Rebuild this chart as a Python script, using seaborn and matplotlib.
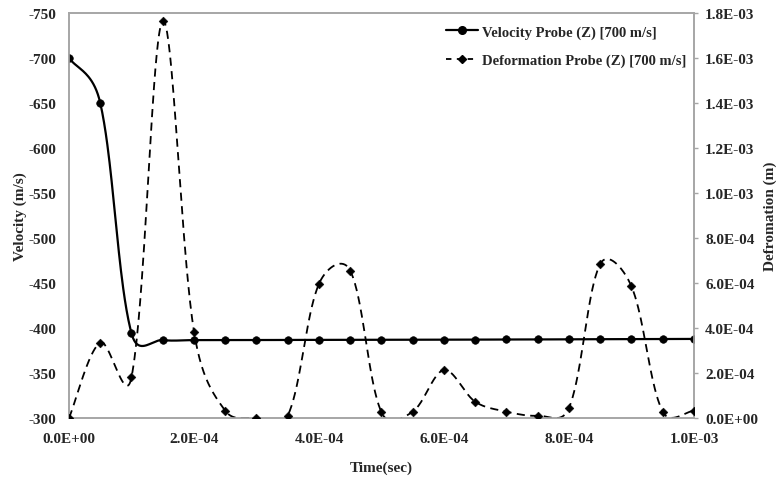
import numpy as np
import pandas as pd
import matplotlib
matplotlib.use("Agg")
import matplotlib.pyplot as plt
import seaborn as sns
from matplotlib.lines import Line2D
from matplotlib.ticker import FuncFormatter

# ---- data ----
time_s = [0.0, 5e-5, 1e-4, 1.5e-4, 2e-4, 2.5e-4, 3e-4, 3.5e-4, 4e-4, 4.5e-4, 5e-4,
          5.5e-4, 6e-4, 6.5e-4, 7e-4, 7.5e-4, 8e-4, 8.5e-4, 9e-4, 9.5e-4, 1e-3]
velocity = [-700, -650, -394, -386.5, -386.5, -386.5, -386.5, -386.7, -386.7, -386.8, -386.8,
            -387, -387, -387, -387.2, -387.2, -387.4, -387.5, -387.6, -387.7, -387.8]
deformation = [0.0, 3.35e-4, 1.81e-4, 1.764e-3, 3.84e-4, 3.2e-5, 0.0, 1.0e-5, 5.96e-4, 6.55e-4,
               2.5e-5, 2.8e-5, 2.13e-4, 7.2e-5, 2.8e-5, 1.0e-5, 4.4e-5, 6.84e-4, 5.85e-4,
               2.8e-5, 3.2e-5]
vel_label = "Velocity Probe (Z) [700 m/s]"
def_label = "Deformation Probe (Z) [700 m/s]"
x_ticks = [0, 2e-4, 4e-4, 6e-4, 8e-4, 1e-3]
vel_ticks = [-300, -350, -400, -450, -500, -550, -600, -650, -700, -750]
def_ticks = [0, 2e-4, 4e-4, 6e-4, 8e-4, 1e-3, 1.2e-3, 1.4e-3, 1.6e-3, 1.8e-3]

X_LIM = (0, 1e-3)
VEL_LIM = (-300, -750)
DEF_LIM = (0, 1.8e-3)
AX_W_PX, AX_H_PX = 625.0, 405.0


def smooth(x, y, xlim, ylim, n=40, k=0.5):
    """Excel-like smoothed line: cubic Bezier through the points, tangents partly
    weighted by the neighbouring segment lengths measured on screen."""
    x = np.asarray(x, float); y = np.asarray(y, float)
    sx = (x - xlim[0]) / (xlim[1] - xlim[0]) * AX_W_PX
    sy = (y - ylim[0]) / (ylim[1] - ylim[0]) * AX_H_PX
    P = np.column_stack([sx, sy])
    m = len(P)
    fwd = np.zeros_like(P); bwd = np.zeros_like(P)
    for i in range(m):
        p0 = P[max(i - 1, 0)]; p2 = P[min(i + 1, m - 1)]
        T = p2 - p0
        dp = np.linalg.norm(P[i] - p0); dn = np.linalg.norm(p2 - P[i])
        tot = dp + dn if dp + dn > 0 else 1.0
        wn = k * (dn / tot) + (1 - k) * 0.5
        wp = k * (dp / tot) + (1 - k) * 0.5
        fwd[i] = P[i] + T * wn / 3.0
        bwd[i] = P[i] - T * wp / 3.0
    t = np.linspace(0, 1, n, endpoint=False)[:, None]
    pts = []
    for i in range(m - 1):
        b0, b1, b2, b3 = P[i], fwd[i], bwd[i + 1], P[i + 1]
        pts.append((1 - t) ** 3 * b0 + 3 * (1 - t) ** 2 * t * b1 + 3 * (1 - t) * t ** 2 * b2 + t ** 3 * b3)
    pts.append(P[-1][None, :])
    pts = np.vstack(pts)
    xs = pts[:, 0] / AX_W_PX * (xlim[1] - xlim[0]) + xlim[0]
    ys = pts[:, 1] / AX_H_PX * (ylim[1] - ylim[0]) + ylim[0]
    return xs, ys


sns.set_theme(style="white")
plt.rcParams["font.family"] = ["Liberation Serif", "DejaVu Serif"]
plt.rcParams["font.weight"] = "bold"
plt.rcParams["axes.unicode_minus"] = False

fig = plt.figure(figsize=(7.77, 4.81), dpi=100)
ax = fig.add_axes([0.0888, 0.129, 0.8043, 0.842])
ax2 = ax.twinx()

gray = "#a6a6a6"

# velocity (left axis)
sx, sy = smooth(time_s, velocity, X_LIM, VEL_LIM)
sns.lineplot(x=sx, y=sy, ax=ax, color="black", lw=1.6, sort=False, estimator=None)
sns.scatterplot(x=time_s, y=velocity, ax=ax, color="black", s=30, marker="o", edgecolor="black", zorder=5)

# deformation (right axis)
dx, dy = smooth(time_s, deformation, X_LIM, DEF_LIM)
sns.lineplot(x=dx, y=dy, ax=ax2, color="black", lw=1.3, sort=False, estimator=None)
ax2.lines[-1].set_dashes([4.5, 3])
sns.scatterplot(x=time_s, y=deformation, ax=ax2, color="black", s=20, marker="D", edgecolor="black", zorder=5)

ax.set_xlim(*X_LIM)
ax.set_ylim(*VEL_LIM)
ax2.set_ylim(*DEF_LIM)
ax.set_xticks(x_ticks)
ax.set_yticks(vel_ticks)
ax2.set_yticks(def_ticks)
ax.xaxis.set_major_formatter(FuncFormatter(lambda v, p: f"{v:.1E}"))
ax2.yaxis.set_major_formatter(FuncFormatter(lambda v, p: f"{v:.1E}"))

fs = 11
for a in (ax, ax2):
    for s in a.spines.values():
        s.set_color(gray); s.set_linewidth(1.2)
    a.tick_params(labelsize=fs)
    for lab in a.get_xticklabels() + a.get_yticklabels():
        lab.set_fontweight("bold")
ax.tick_params(axis="y", length=0, pad=9)
ax.tick_params(axis="x", length=0, pad=10)
ax2.tick_params(axis="y", length=3, width=1, color=gray, direction="out", pad=5, right=True)

ax.set_xlabel("Time(sec)", fontsize=fs, fontweight="bold")
ax.xaxis.set_label_coords(0.5, -0.105)
ax.set_ylabel("Velocity (m/s)", fontsize=fs, fontweight="bold")
ax.yaxis.set_label_coords(-0.068, 0.5)
ax2.set_ylabel("Defromation (m)", fontsize=fs, fontweight="bold", rotation=90)
ax2.yaxis.set_label_coords(1.112, 0.5)

handles = [Line2D([], [], color="black", lw=1.6, marker="o", markersize=5.5),
           Line2D([], [], color="black", lw=1.3, ls=(0, (3, 3)), marker="D", markersize=4)]
leg = ax2.legend(handles, [vel_label, def_label], loc="upper right", frameon=False,
                 prop={"size": 10.5, "weight": "bold"}, handlelength=2.2, handletextpad=0.3,
                 labelspacing=1.0, bbox_to_anchor=(1.003, 0.993), borderaxespad=0.25)

fig.savefig("out.png", dpi=100)
